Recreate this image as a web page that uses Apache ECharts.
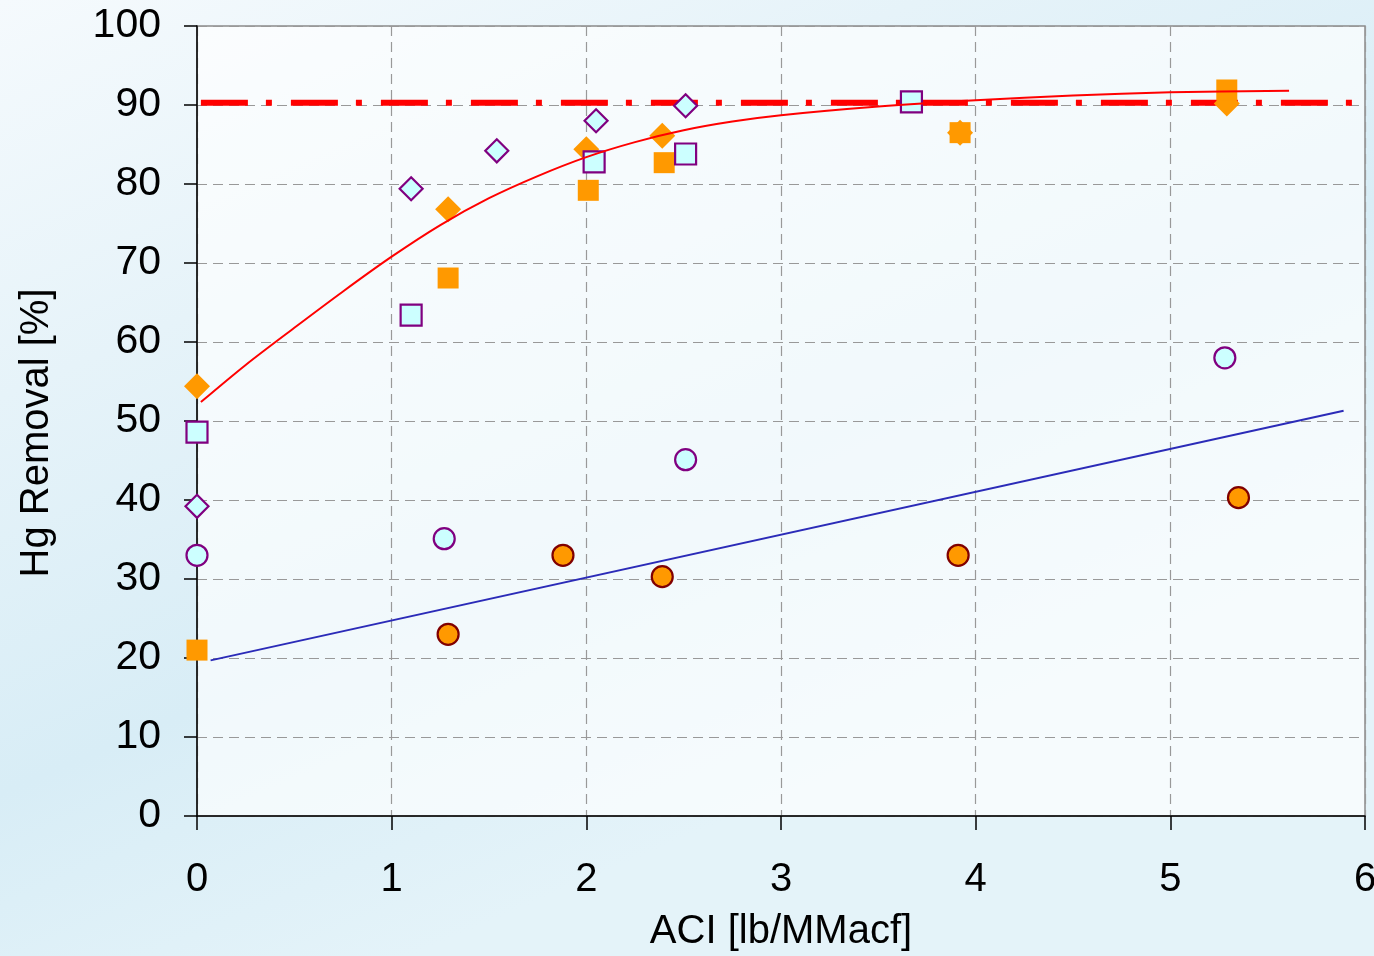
<!DOCTYPE html>
<html>
<head>
<meta charset="utf-8">
<script src="https://cdn.jsdelivr.net/npm/echarts@6/dist/echarts.min.js"></script>
<style>
html,body{margin:0;padding:0;width:1374px;height:956px;overflow:hidden;}
#c{width:1374px;height:956px;}
</style>
</head>
<body>
<div id="c"></div>
<script>
// ---- data ----
const xTicks = [0, 1, 2, 3, 4, 5, 6];
const yTicks = [0, 10, 20, 30, 40, 50, 60, 70, 80, 90, 100];

const orangeDiamondX = [0.00, 1.29, 2.00, 2.39, 3.92, 5.29];
const orangeDiamondY = [54.4, 76.8, 84.4, 86.1, 86.5, 90.2];

const orangeSquareX = [0.00, 1.29, 2.01, 2.40, 3.92, 5.29];
const orangeSquareY = [21.0, 68.1, 79.2, 82.7, 86.5, 91.9];

const openDiamondX = [0.00, 1.10, 1.54, 2.05, 2.51];
const openDiamondY = [39.2, 79.4, 84.2, 88.0, 89.9];

const openSquareX = [0.00, 1.10, 2.04, 2.51, 3.67];
const openSquareY = [48.6, 63.4, 82.8, 83.8, 90.4];

const openCircleX = [0.00, 1.27, 2.51, 5.28];
const openCircleY = [33.0, 35.1, 45.1, 58.0];

const orangeCircleX = [1.29, 1.88, 2.39, 3.91, 5.35];
const orangeCircleY = [23.0, 33.0, 30.3, 33.0, 40.3];

// red trend curve
const redCurveX = [0.02, 0.25, 0.50, 0.75, 1.00, 1.25, 1.50, 1.75, 2.00, 2.25, 2.50, 2.75, 3.00, 3.50, 4.00, 4.50, 5.00, 5.61];
const redCurveY = [52.4, 57.1, 61.8, 66.4, 70.8, 74.8, 78.2, 81.0, 83.4, 85.3, 86.8, 87.9, 88.7, 89.8, 90.6, 91.2, 91.6, 91.8];

const blueLineX = [0.07, 5.89];
const blueLineY = [19.7, 51.3];

const targetX = [0.02, 5.95];
const targetY = [90.3, 90.3];

const xName = 'ACI [lb/MMacf]';
const yName = 'Hg Removal [%]';

// ---- helpers ----
const zip = (xs, ys) => xs.map((x, i) => [x, ys[i]]);
const FONT = 'Liberation Sans, Arial, sans-serif';

const chart = echarts.init(document.getElementById('c'), null, {renderer: 'canvas'});

const openStyle = {color: '#CCFFFF', borderColor: '#800080', borderWidth: 2.2};

const option = {
  animation: false,
  backgroundColor: {
    type: 'linear', x: 0, y: 0, x2: 0.3, y2: 1,
    colorStops: [
      {offset: 0, color: '#f5fafd'},
      {offset: 0.35, color: '#e6f3f9'},
      {offset: 0.7, color: '#d8edf6'},
      {offset: 1, color: '#e4f3f9'}
    ]
  },
  grid: {
    left: 197, top: 26, right: 9, bottom: 140,
    containLabel: false,
    outerBoundsMode: 'none',
    show: true,
    backgroundColor: 'rgba(255,255,255,0.65)',
    borderColor: '#8a8a8a', borderWidth: 1.5
  },
  xAxis: {
    type: 'value', min: xTicks[0], max: xTicks[xTicks.length - 1], interval: 1,
    name: xName, nameLocation: 'middle', nameGap: 96,
    nameTextStyle: {fontFamily: FONT, fontSize: 40, color: '#000'},
    axisLine: {lineStyle: {color: '#000', width: 1.5}},
    axisTick: {show: true, length: 14, lineStyle: {color: '#000', width: 1.5}},
    axisLabel: {fontFamily: FONT, fontSize: 40, color: '#000', margin: 44,
      formatter: v => xTicks.includes(v) ? String(v) : ''},
    splitLine: {show: true, lineStyle: {color: '#999', width: 1.2, type: [10, 6]}}
  },
  yAxis: {
    type: 'value', min: yTicks[0], max: yTicks[yTicks.length - 1], interval: 10,
    name: yName, nameLocation: 'middle', nameGap: 140,
    nameTextStyle: {fontFamily: FONT, fontSize: 40, color: '#000', padding: [0, 24, 0, 0]},
    axisLine: {show: true, lineStyle: {color: '#000', width: 1.5}},
    axisTick: {show: true, length: 13, lineStyle: {color: '#000', width: 1.5}},
    axisLabel: {fontFamily: FONT, fontSize: 41, color: '#000', margin: 36,
      formatter: v => yTicks.includes(v) ? String(v) : ''},
    splitLine: {show: true, lineStyle: {color: '#999', width: 1.2, type: [10, 6]}}
  },
  series: [
    {
      name: 'target', type: 'line', z: 1, data: zip(targetX, targetY),
      symbol: 'none', silent: true,
      lineStyle: {color: '#FF0000', width: 6, type: [47, 18, 6, 19], cap: 'butt'}
    },
    {
      name: 'orangeDiamond', type: 'scatter', z: 3, symbol: 'diamond', symbolSize: 26,
      data: zip(orangeDiamondX, orangeDiamondY), itemStyle: {color: '#FF9900', opacity: 1}
    },
    {
      name: 'orangeSquare', type: 'scatter', z: 3, symbol: 'rect', symbolSize: 21,
      data: zip(orangeSquareX, orangeSquareY), itemStyle: {color: '#FF9900', opacity: 1}
    },
    {
      name: 'openDiamond', type: 'scatter', z: 3, symbol: 'diamond', symbolSize: 23,
      data: zip(openDiamondX, openDiamondY), itemStyle: Object.assign({opacity: 1}, openStyle)
    },
    {
      name: 'openSquare', type: 'scatter', z: 3, symbol: 'rect', symbolSize: 21,
      data: zip(openSquareX, openSquareY), itemStyle: Object.assign({opacity: 1}, openStyle)
    },
    {
      name: 'openCircle', type: 'scatter', z: 3, symbol: 'circle', symbolSize: 21,
      data: zip(openCircleX, openCircleY), itemStyle: Object.assign({opacity: 1}, openStyle)
    },
    {
      name: 'orangeCircle', type: 'scatter', z: 3, symbol: 'circle', symbolSize: 21,
      data: zip(orangeCircleX, orangeCircleY),
      itemStyle: {color: '#FF9900', borderColor: '#800000', borderWidth: 2.2, opacity: 1}
    },
    {
      name: 'redFit', type: 'line', z: 5, data: zip(redCurveX, redCurveY),
      symbol: 'none', smooth: 0.3,
      lineStyle: {color: '#FF0000', width: 2}
    },
    {
      name: 'blueFit', type: 'line', z: 5, data: zip(blueLineX, blueLineY),
      symbol: 'none', lineStyle: {color: '#2B2BB8', width: 2}
    }
  ]
};
chart.setOption(option);
</script>
</body>
</html>
